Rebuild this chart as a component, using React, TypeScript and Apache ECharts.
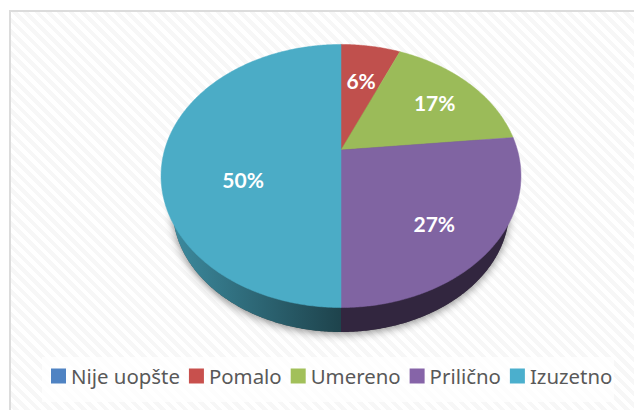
import React, { useEffect, useRef } from "react";
import * as echarts from "echarts";

const categories = ["Nije uopšte", "Pomalo", "Umereno", "Prilično", "Izuzetno"];
const shares = [0, 6.45, 16.95, 26.6, 50];
const topColors = ["#4f81bd", "#c0504d", "#9bbb59", "#8064a2", "#4bacc6"];
const legendColors = ["#4f83c3", "#c8504d", "#a2c05a", "#8664a8", "#4bafcd"];
const wallLeftColors = ["#2f4d72", "#74302e", "#5d7135", "#32263f", "#3c8a9e"];
const wallRightColors = ["#2f4d72", "#74302e", "#5d7135", "#32263f", "#1e434c"];
const labelShiftX = [0, 1, 14, 8, 8];
const labelShiftY = [0, -3, -6, 18, 29];

// perspective projection of the pie's disk
const CX = 341, CY = 150, RX = 176.4, RY = 126.4, TILT = 0.1977;
const DEPTH_SCALE = 0.935, DEPTH_CY = 184.7;

const project = (deg: number, r: number, scale = 1, cy = CY): [number, number] => {
  const a = (deg * Math.PI) / 180;
  const u = Math.sin(a) * r, v = Math.cos(a) * r;
  const w = 1 + TILT * v;
  return [CX + (scale * RX * u) / w, cy - (scale * RY * v) / w];
};

const slicePoints = (from: number, to: number, scale = 1, cy = CY) => {
  const pts: [number, number][] = [project(0, 0, scale, cy)];
  const steps = Math.max(2, Math.ceil((to - from) * 2));
  for (let i = 0; i <= steps; i++) pts.push(project(from + ((to - from) * i) / steps, 1, scale, cy));
  return pts;
};

const total = shares.reduce((a, b) => a + b, 0);
const startAngle = (i: number) => (shares.slice(0, i).reduce((a, b) => a + b, 0) / total) * 360;
const endAngle = (i: number) => startAngle(i) + (shares[i] / total) * 360;

export default function App() {
  const ref = useRef<HTMLDivElement>(null);
  useEffect(() => {
    document.body.style.margin = "0";
    const chart = echarts.init(ref.current!, null, { renderer: "svg" });

    const topSeries = categories.map((name, i) => ({
      type: "custom",
      name,
      coordinateSystem: "none",
      z: 5,
      silent: true,
      itemStyle: { color: legendColors[i] },
      data: [shares[i]],
      renderItem: () => {
        if (!shares[i]) return { type: "group", children: [] };
        const from = startAngle(i), to = endAngle(i);
        const [lx, ly] = project((from + to) / 2, 0.6);
        return {
          type: "group",
          children: [
            { type: "polygon", shape: { points: slicePoints(from, to) }, style: { fill: topColors[i], stroke: topColors[i], lineWidth: 0.5 } },
            {
              type: "text",
              z2: 10,
              style: {
                x: lx + labelShiftX[i],
                y: ly + labelShiftY[i],
                text: `${Math.round(shares[i])}%`,
                fill: "#ffffff",
                font: "bold 21px Lato",
                align: "center",
                verticalAlign: "middle",
              },
            },
          ],
        };
      },
    }));

    const wallSeries = {
      type: "custom",
      name: "wall",
      coordinateSystem: "none",
      z: 3,
      silent: true,
      data: shares.map((s) => s),
      renderItem: (params: any) => {
        const i = params.dataIndex;
        if (!shares[i]) return { type: "group", children: [] };
        return {
          type: "polygon",
          shape: { points: slicePoints(startAngle(i), endAngle(i), DEPTH_SCALE, DEPTH_CY) },
          style: {
            fill: new echarts.graphic.LinearGradient(0, 0, 1, 0, [
              { offset: 0, color: wallLeftColors[i] },
              { offset: 1, color: wallRightColors[i] },
            ]),
          },
        };
      },
    };

    const shadowSeries = {
      type: "custom",
      name: "shadow",
      coordinateSystem: "none",
      z: 2,
      silent: true,
      data: [total],
      renderItem: () => ({
        type: "polygon",
        shape: { points: slicePoints(0, 360, DEPTH_SCALE, DEPTH_CY) },
        style: { fill: "#555555", shadowBlur: 9, shadowColor: "rgba(0,0,0,0.45)", shadowOffsetY: 2 },
      }),
    };

    chart.setOption({
      animation: false,
      backgroundColor: "transparent",
      tooltip: { show: false },
      graphic: [
        { type: "rect", z: 0, shape: { x: 42, y: 357, width: 572, height: 45 }, style: { fill: "rgba(255,255,255,0.75)" }, silent: true },
      ],
      legend: {
        data: categories,
        left: 51,
        top: 366,
        padding: 0,
        itemWidth: 15,
        itemHeight: 15,
        itemGap: 9,
        icon: "rect",
        selectedMode: false,
        textStyle: { color: "#595959", fontFamily: "Noto Sans", fontSize: 20.4, padding: [0, 0, 0, 0] },
      },
      series: [shadowSeries, wallSeries, ...topSeries],
    });
    return () => chart.dispose();
  }, []);

  return (
    <div
      style={{
        position: "absolute",
        left: 0,
        top: 0,
        width: 634,
        height: 410,
        background: "#ffffff",
        overflow: "hidden",
      }}
    >
      <div
        style={{
          position: "absolute",
          left: 9,
          top: 10,
          width: 640,
          height: 420,
          boxSizing: "border-box",
          borderLeft: "2px solid #dcdcdc",
          borderTop: "2px solid #dcdcdc",
          background: "repeating-linear-gradient(45deg, #f7f7f7 0px, #f7f7f7 4px, #ffffff 4px, #ffffff 8px)",
        }}
      />
      <div ref={ref} style={{ position: "absolute", left: 0, top: 0, width: 634, height: 410 }} />
    </div>
  );
}
